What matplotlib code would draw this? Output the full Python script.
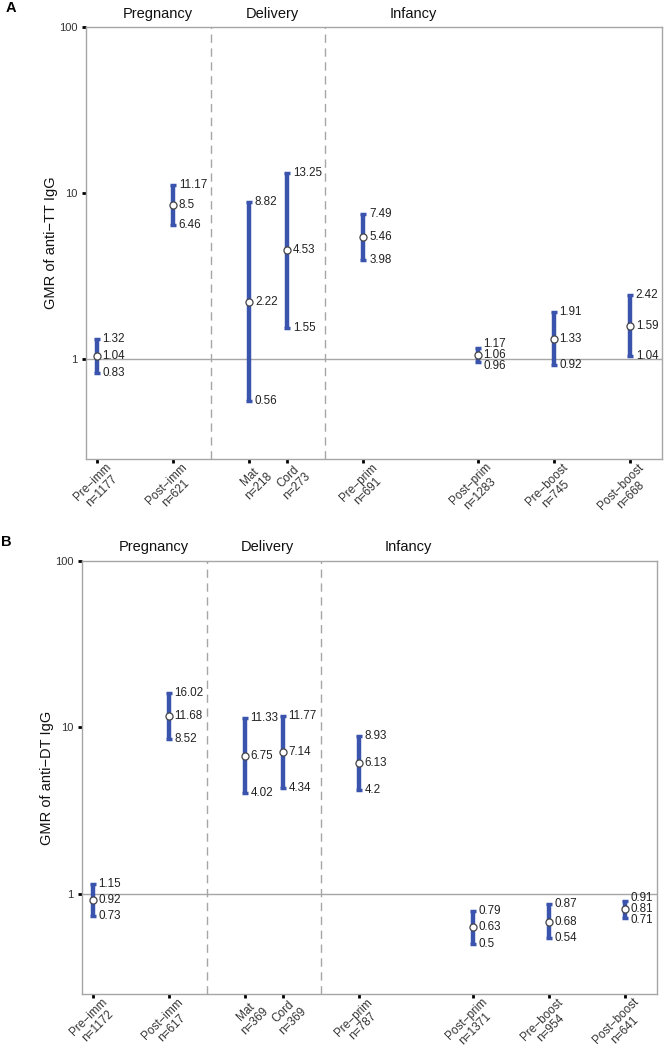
import numpy as np
import matplotlib
matplotlib.use('Agg')
import matplotlib.pyplot as plt
import matplotlib.transforms as mtransforms

plt.rcParams['font.family'] = ['Liberation Sans', 'DejaVu Sans']

# x positions of the time points (gaps between groups as in the original)
xpos = [1, 2, 3, 3.5, 4.5, 6, 7, 8]
stages = ['Pre\u2212imm', 'Post\u2212imm', 'Mat', 'Cord', 'Pre\u2212prim',
          'Post\u2212prim', 'Pre\u2212boost', 'Post\u2212boost']

# Panel A: anti-TT IgG
n_tt = [1177, 621, 218, 273, 691, 1283, 745, 668]
gmr_tt = [1.04, 8.5, 2.22, 4.53, 5.46, 1.06, 1.33, 1.59]
lo_tt = [0.83, 6.46, 0.56, 1.55, 3.98, 0.96, 0.92, 1.04]
hi_tt = [1.32, 11.17, 8.82, 13.25, 7.49, 1.17, 1.91, 2.42]

# Panel B: anti-DT IgG
n_dt = [1172, 617, 369, 369, 787, 1371, 954, 641]
gmr_dt = [0.92, 11.68, 6.75, 7.14, 6.13, 0.63, 0.68, 0.81]
lo_dt = [0.73, 8.52, 4.02, 4.34, 4.2, 0.5, 0.54, 0.71]
hi_dt = [1.15, 16.02, 11.33, 11.77, 8.93, 0.79, 0.87, 0.91]

groups = ['Pregnancy', 'Delivery', 'Infancy']
group_x = [1.8, 3.3, 5.15]
dividers = [2.5, 4.0]

BLUE = '#3a53ad'
GREY = '#a6a6a6'


def fmt(v):
    return ('%.2f' % v).rstrip('0').rstrip('.')


def panel(fig, ax, n, gmr, lo, hi, ylabel, letter):
    ax.set_yscale('log')
    ax.set_ylim(0.25, 100)
    ax.set_xlim(0.855, 8.42)

    ax.axhline(1, color=GREY, lw=1, zorder=1)
    for d in dividers:
        ax.axvline(d, color=GREY, lw=1, ls=(0, (6, 4)), zorder=1)

    gmr = np.array(gmr)
    lo = np.array(lo)
    hi = np.array(hi)
    ax.errorbar(xpos, gmr, yerr=[gmr - lo, hi - gmr], fmt='none', ecolor=BLUE,
                elinewidth=3.2, capsize=2, capthick=2.5, zorder=2)
    ax.scatter(xpos, gmr, s=26, facecolor='white', edgecolor='#444444',
               linewidth=0.9, zorder=3)

    # value labels, pushed apart a little when the interval is narrow
    gap = 0.065
    for x, m, l, h in zip(xpos, gmr, lo, hi):
        lm = np.log10(m)
        lh = max(np.log10(h), lm + gap)
        ll = min(np.log10(l), lm - gap)
        for yy, v in ((lh, h), (lm, m), (ll, l)):
            ax.text(x + 0.075, 10 ** yy, fmt(v), fontsize=8.4, color='#222222',
                    ha='left', va='center', zorder=4)

    trans = mtransforms.blended_transform_factory(ax.transData, ax.transAxes)
    for g, gx in zip(groups, group_x):
        ax.text(gx, 1.032, g, transform=trans, ha='center', va='center',
                fontsize=10.5, color='#111111')

    ax.set_yticks([1, 10, 100])
    ax.set_yticklabels(['1', '10', '100'])
    ax.minorticks_off()
    ax.set_xticks(xpos)
    ax.set_xticklabels(['%s\nn=%d' % (s, k) for s, k in zip(stages, n)],
                       rotation=45, ha='right', va='top',
                       rotation_mode='anchor', multialignment='center',
                       linespacing=1.1)
    ax.tick_params(axis='both', length=3, width=2, color='black',
                   labelsize=8.5, labelcolor='#333333', pad=3)
    ax.tick_params(axis='y', labelsize=8)
    shift = mtransforms.ScaledTranslation(8 / 100, 6 / 100, fig.dpi_scale_trans)
    for lab in ax.get_xticklabels():
        lab.set_transform(lab.get_transform() + shift)
    for sp in ax.spines.values():
        sp.set_color(GREY)
        sp.set_linewidth(1)
    ax.set_ylabel(ylabel, fontsize=10.5, color='#111111', labelpad=1)
    ax.text(-0.14, 1.045, letter, transform=ax.transAxes, fontsize=10.5,
            fontweight='bold', ha='left', va='center')


fig = plt.figure(figsize=(6.66, 10.55), dpi=100)
ax1 = fig.add_axes([0.129, 0.565, 0.865, 0.409])
ax2 = fig.add_axes([0.123, 0.058, 0.863, 0.41])

panel(fig, ax1, n_tt, gmr_tt, lo_tt, hi_tt, 'GMR of anti\u2212TT IgG', 'A')
panel(fig, ax2, n_dt, gmr_dt, lo_dt, hi_dt, 'GMR of anti\u2212DT IgG', 'B')

fig.savefig('out.png', dpi=100)
